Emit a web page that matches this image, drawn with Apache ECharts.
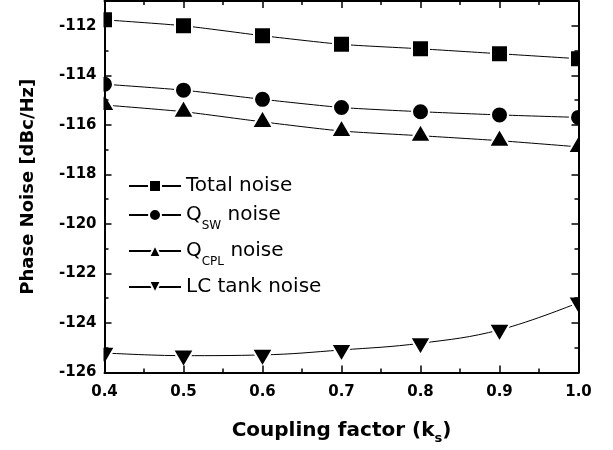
<!DOCTYPE html>
<html>
<head>
<meta charset="utf-8">
<script src="https://cdn.jsdelivr.net/npm/echarts@6/dist/echarts.min.js"></script>
<style>
  html, body { margin: 0; padding: 0; background: #fff; }
  #chart { width: 613px; height: 450px; }
</style>
</head>
<body>
<div id="chart"></div>
<script>
  // coupling factor k_s
  var couplingList = [0.4, 0.5, 0.6, 0.7, 0.8, 0.9, 1.0];
  // phase noise [dBc/Hz]
  var totalNoise = [-111.76, -112.0, -112.4, -112.75, -112.93, -113.13, -113.33];
  var qswNoise   = [-114.36, -114.6, -114.97, -115.3, -115.47, -115.6, -115.7];
  var qcplNoise  = [-115.2, -115.47, -115.88, -116.25, -116.44, -116.64, -116.89];
  var lcNoise    = [-125.21, -125.32, -125.29, -125.09, -124.82, -124.28, -123.18];
  var seriesNames = ['Total noise', 'QSW noise', 'QCPL noise', 'LC tank noise'];

  function pairs(ys) {
    return couplingList.map(function (x, i) { return [x, ys[i]]; });
  }

  var font = 'DejaVu Sans';
  var gridLeft = 104.5, gridRight = 34.5;
  var chart = echarts.init(document.getElementById('chart'));

  var baseSeries = {
    type: 'line',
    lineStyle: { color: '#000', width: 1 },
    itemStyle: { color: '#000', borderColor: '#fff', borderWidth: 2 },
    z: 1
  };

  var legendText = {
    fontFamily: font,
    fontSize: 20,
    color: '#000',
    rich: {
      a: { fontFamily: font, fontSize: 20, lineHeight: 24, color: '#000' },
      s: { fontFamily: font, fontSize: 12, lineHeight: 12, color: '#000', padding: [22, 0, 0, 0] }
    }
  };
  function legendFmt(name) {
    if (name === 'QSW noise') return '{a|Q}{s|SW}{a| noise}';
    if (name === 'QCPL noise') return '{a|Q}{s|CPL}{a| noise}';
    return '{a|' + name + '}';
  }
  // one legend box per row, so row spacing follows the figure
  var legendTops = [176, 198, 234, 277];
  var legends = seriesNames.map(function (n, i) {
    return {
      orient: 'vertical',
      left: 128,
      top: legendTops[i],
      padding: 0,
      itemWidth: 52,
      itemHeight: 15,
      selectedMode: false,
      data: [n],
      textStyle: legendText,
      formatter: legendFmt
    };
  });

  function frameAxis(extra) {
    return Object.assign({
      type: 'value',
      z: 60,
      axisLine: { onZero: false, lineStyle: { color: '#000', width: 2 } },
      axisTick: { inside: true, length: 7, lineStyle: { color: '#000', width: 1.5 } },
      minorTick: { show: true, splitNumber: 2, length: 4, lineStyle: { color: '#000', width: 1.5 } },
      splitLine: { show: false }
    }, extra);
  }

  var option = {
    animation: false,
    backgroundColor: '#fff',
    textStyle: { fontFamily: font, color: '#000' },
    grid: { left: gridLeft, right: gridRight, top: 1, bottom: 75 },
    legend: legends,
    // white masks so markers are cut at the frame, as in the figure
    graphic: {
      elements: [
        { type: 'rect', z: 50, silent: true, shape: { x: 0, y: 0, width: gridLeft - 1, height: 450 }, style: { fill: '#fff' } },
        { type: 'rect', z: 50, silent: true, shape: { x: 613 - gridRight + 1, y: 0, width: gridRight - 1, height: 450 }, style: { fill: '#fff' } }
      ]
    },
    xAxis: [
      frameAxis({
        min: 0.4,
        max: 1.0,
        interval: 0.1,
        name: '{a|Coupling factor (k}{s|s}{a|)}',
        nameLocation: 'middle',
        nameGap: 46,
        nameTextStyle: {
          rich: {
            a: { fontFamily: font, fontSize: 20, fontWeight: 'bold', color: '#000', lineHeight: 24 },
            s: { fontFamily: font, fontSize: 13, fontWeight: 'bold', color: '#000', lineHeight: 14, padding: [16, 0, 0, 0] }
          }
        },
        axisLabel: {
          margin: 12,
          fontSize: 15,
          fontWeight: 'bold',
          fontFamily: font,
          color: '#000',
          formatter: function (v) { return v.toFixed(1); }
        }
      }),
      frameAxis({ position: 'top', min: 0.4, max: 1.0, interval: 0.1, axisLabel: { show: false } })
    ],
    yAxis: [
      frameAxis({
        min: -126,
        max: -111,
        interval: 2,
        name: 'Phase Noise [dBc/Hz]',
        nameLocation: 'middle',
        nameGap: 67,
        nameTextStyle: { fontFamily: font, fontSize: 18, fontWeight: 'bold', color: '#000' },
        axisLabel: {
          margin: 8,
          fontSize: 15,
          fontWeight: 'bold',
          fontFamily: font,
          color: '#000',
          showMaxLabel: false
        }
      }),
      frameAxis({ position: 'right', min: -126, max: -111, interval: 2, axisLabel: { show: false } })
    ],
    series: [
      Object.assign({}, baseSeries, { name: seriesNames[0], symbol: 'rect', symbolSize: 17, smooth: 0.2, data: pairs(totalNoise) }),
      Object.assign({}, baseSeries, { name: seriesNames[1], symbol: 'circle', symbolSize: 17, smooth: 0.2, data: pairs(qswNoise) }),
      Object.assign({}, baseSeries, { name: seriesNames[2], symbol: 'triangle', symbolSize: [21, 18], symbolOffset: [0, -3], smooth: 0.2, data: pairs(qcplNoise) }),
      Object.assign({}, baseSeries, { name: seriesNames[3], symbol: 'triangle', symbolRotate: 180, symbolSize: [21, 18], symbolOffset: [0, 3], smooth: 0.4, data: pairs(lcNoise) })
    ]
  };

  chart.setOption(option);
</script>
</body>
</html>
